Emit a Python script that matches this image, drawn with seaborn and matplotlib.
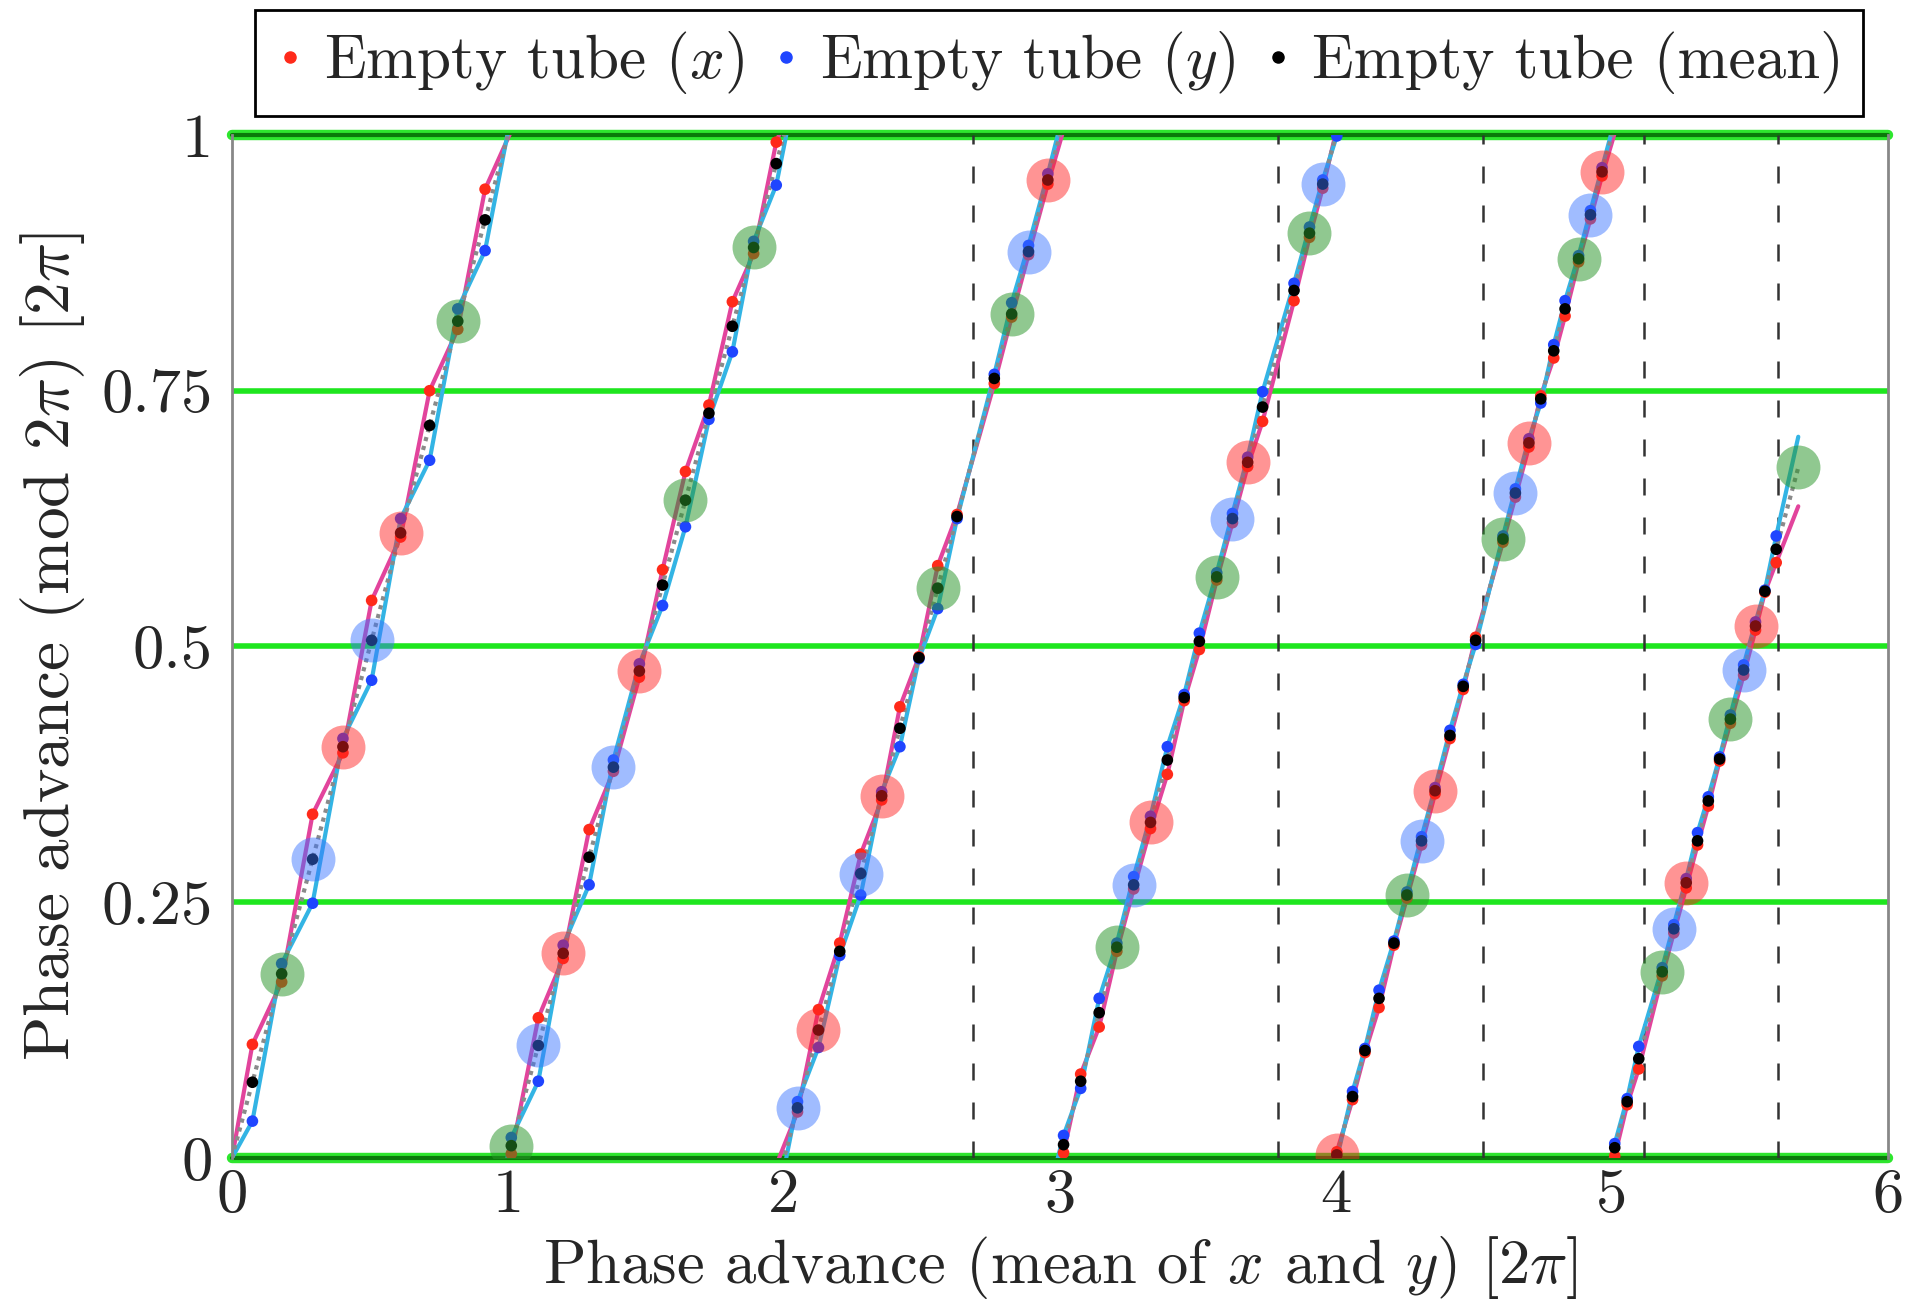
import numpy as np
import pandas as pd
import matplotlib
matplotlib.use("Agg")
import matplotlib.pyplot as plt
import seaborn as sns
from matplotlib.lines import Line2D

# ---------------- data (phase advances in units of 2*pi, unwrapped) ----------------
# mean phase advance at each element (x axis)
elem_mean = [0.074, 0.180, 0.292, 0.402, 0.506, 0.611, 0.716, 0.818, 0.917,
             1.012, 1.110, 1.200, 1.294, 1.382, 1.476, 1.560, 1.643, 1.728, 1.813, 1.890, 1.972,
             2.049, 2.125, 2.202, 2.278, 2.354, 2.420, 2.489, 2.557, 2.627, 2.762, 2.825, 2.886, 2.956,
             3.013, 3.075, 3.142, 3.206, 3.267, 3.328, 3.389, 3.450, 3.505, 3.568, 3.625, 3.680,
             3.734, 3.848, 3.904, 3.952,
             4.003, 4.060, 4.105, 4.156, 4.210, 4.257, 4.310, 4.359, 4.413, 4.461, 4.506, 4.605,
             4.650, 4.699, 4.742, 4.789, 4.830, 4.879, 4.922, 4.964,
             5.010, 5.055, 5.097, 5.182, 5.224, 5.269, 5.310, 5.349, 5.390, 5.429, 5.477, 5.520,
             5.554, 5.595]
# horizontal phase advance at each element
elem_x = [0.111, 0.172, 0.336, 0.396, 0.545, 0.607, 0.750, 0.810, 0.947,
          1.004, 1.137, 1.195, 1.321, 1.378, 1.470, 1.575, 1.671, 1.736, 1.837, 1.884, 1.993,
          2.045, 2.145, 2.210, 2.297, 2.350, 2.441, 2.490, 2.579, 2.629, 2.757, 2.822, 2.883, 2.952,
          3.005, 3.082, 3.128, 3.202, 3.263, 3.322, 3.375, 3.447, 3.497, 3.565, 3.621, 3.676,
          3.720, 3.838, 3.900, 3.948,
          4.006, 4.057, 4.103, 4.147, 4.208, 4.254, 4.306, 4.356, 4.410, 4.458, 4.509, 4.602,
          4.646, 4.695, 4.745, 4.782, 4.823, 4.876, 4.918, 4.960,
          5.002, 5.052, 5.087, 5.178, 5.220, 5.264, 5.306, 5.344, 5.388, 5.425, 5.472, 5.516,
          5.553, 5.582]
# vertical phase advance at each element
elem_y = [0.036, 0.190, 0.249, 0.410, 0.467, 0.625, 0.682, 0.830, 0.887,
          1.020, 1.075, 1.208, 1.267, 1.389, 1.483, 1.540, 1.617, 1.722, 1.788, 1.896, 1.951,
          2.055, 2.108, 2.198, 2.257, 2.358, 2.402, 2.488, 2.537, 2.625, 2.766, 2.836, 2.892, 2.962,
          3.022, 3.068, 3.156, 3.210, 3.275, 3.334, 3.402, 3.453, 3.513, 3.572, 3.630, 3.685,
          3.749, 3.855, 3.910, 3.956,
          3.999, 4.065, 4.107, 4.164, 4.212, 4.260, 4.314, 4.362, 4.418, 4.463, 4.502, 4.608,
          4.654, 4.703, 4.738, 4.795, 4.838, 4.882, 4.926, 4.968,
          5.014, 5.058, 5.109, 5.186, 5.228, 5.273, 5.318, 5.353, 5.392, 5.433, 5.482, 5.524,
          5.555, 5.608]

# start / end of the tracked phase curves
trace_start_mean, trace_start_x, trace_start_y = 0.0, 0.0, 0.0
trace_end_mean, trace_end_x, trace_end_y = 5.675, 5.637, 5.705

# large markers: element locations (mean phase) by type
green_elems = [0.180, 0.818, 1.012, 1.643, 1.890, 2.557, 2.825, 3.206, 3.568, 3.904,
               4.257, 4.605, 4.879, 5.182, 5.429, 5.675]
blue_elems = [0.292, 0.506, 1.110, 1.382, 2.049, 2.278, 2.886, 3.267, 3.625, 3.952,
              4.310, 4.650, 4.922, 5.224, 5.477]
red_elems = [0.402, 0.611, 1.200, 1.476, 2.125, 2.354, 2.956, 3.328, 3.680, 4.003,
             4.359, 4.699, 4.964, 5.269, 5.520]

# dashed vertical markers
vlines = [2.685, 3.791, 4.531, 5.116, 5.603]

x_ticks = [0, 1, 2, 3, 4, 5, 6]
y_ticks = [0, 0.25, 0.5, 0.75, 1]
y_tick_labels = ["0", "0.25", "0.5", "0.75", "1"]

legend_labels = ["Empty tube ($x$)", "Empty tube ($y$)", "Empty tube (mean)"]

# ---------------- style ----------------
sns.set_style("white")
plt.rcParams['font.family'] = 'cmr10'
plt.rcParams['mathtext.fontset'] = 'cm'
plt.rcParams['axes.formatter.use_mathtext'] = True
plt.rcParams['axes.unicode_minus'] = False

MAG = '#e2449c'
CYA = '#33b4e4'
GRY = '#8a8a8a'
RED = '#ff2a1a'
BLU = '#1f45ff'
FS = 45

fig = plt.figure(figsize=(19.22, 13.04), dpi=100)
ax = fig.add_axes([0.1207, 0.1120, 0.8616, 0.7845])

# green reference lines
for yv in [0.25, 0.5, 0.75]:
    ax.axhline(yv, color='#1ee61e', lw=4.0, zorder=1)
for yv in [0.0, 1.0]:
    ax.axhline(yv, color='#2ee62e', lw=7.5, zorder=1, clip_on=False)
    ax.axhline(yv, color='#0a7a0a', lw=3.0, zorder=1.1, clip_on=False)

for xv in vlines:
    ax.axvline(xv, color='#333333', lw=1.8, linestyle=(0, (6.8, 8.8)), zorder=1.5)

# traces (plotted once per wrap so that the axes clip them into mod-1 branches)
tm = np.r_[trace_start_mean, elem_mean, trace_end_mean]
tx = np.r_[trace_start_x, elem_x, trace_end_x]
ty = np.r_[trace_start_y, elem_y, trace_end_y]
for k in range(0, 7):
    sns.lineplot(x=tm, y=tx - k, sort=False, estimator=None, color=MAG, lw=3.0,
                 ax=ax, zorder=2, legend=False)
    sns.lineplot(x=tm, y=ty - k, sort=False, estimator=None, color=CYA, lw=3.0,
                 ax=ax, zorder=2.1, legend=False)
    sns.lineplot(x=[trace_start_mean, trace_end_mean], y=np.array([trace_start_mean, trace_end_mean]) - k,
                 sort=False, estimator=None, color=GRY, lw=3.0, linestyle=(0, (1, 1.2)),
                 ax=ax, zorder=2.2, legend=False)

em = np.array(elem_mean)
dots = pd.DataFrame({
    'mean': np.r_[em, em, em],
    'phase': np.r_[np.mod(elem_x, 1.0), np.mod(elem_y, 1.0), np.mod(em, 1.0)],
    'series': [legend_labels[0]] * len(em) + [legend_labels[1]] * len(em) + [legend_labels[2]] * len(em),
})
palette = {legend_labels[0]: RED, legend_labels[1]: BLU, legend_labels[2]: 'black'}
sns.scatterplot(data=dots, x='mean', y='phase', hue='series', palette=palette, s=70,
                linewidth=0, ax=ax, zorder=3, legend=False)

for elems, col, a in [(green_elems, '#2a962a', 0.52), (blue_elems, '#3a74ff', 0.48),
                      (red_elems, '#ff2020', 0.48)]:
    e = np.array(elems)
    sns.scatterplot(x=e, y=np.mod(e, 1.0), color=col, alpha=a, s=1000, linewidth=0,
                    ax=ax, zorder=4, legend=False)

ax.set_xlim(0, 6)
ax.set_ylim(0, 1)
ax.set_xticks(x_ticks)
ax.set_xticklabels([str(v) for v in x_ticks])
ax.set_yticks(y_ticks)
ax.set_yticklabels(y_tick_labels)
ax.tick_params(axis='both', length=0, labelsize=FS)
ax.tick_params(axis='x', pad=8)
ax.tick_params(axis='y', pad=14)
for side in ['left', 'right']:
    ax.spines[side].set_color('#888888')
    ax.spines[side].set_linewidth(2.0)
for side in ['top', 'bottom']:
    ax.spines[side].set_visible(False)

ax.set_xlabel(r"Phase advance (mean of $x$ and $y$) [$2\pi$]", fontsize=FS)
ax.xaxis.set_label_coords(0.5, -0.074)
ax.set_ylabel(r"Phase advance (mod $2\pi$) [$2\pi$]", fontsize=47, labelpad=10)

handles = [Line2D([], [], marker='o', linestyle='none', color=c, markersize=8)
           for c in [RED, BLU, 'black']]
leg = fig.legend(handles, legend_labels, loc='center', bbox_to_anchor=(0.551, 0.952),
                 bbox_transform=fig.transFigure, ncol=3, fontsize=44, frameon=True,
                 fancybox=False, framealpha=1, edgecolor='black', handlelength=0.5,
                 handletextpad=0.3, columnspacing=0.45, borderpad=0.32, borderaxespad=0)
leg.get_frame().set_linewidth(2.0)

fig.savefig('out.png', dpi=100)
